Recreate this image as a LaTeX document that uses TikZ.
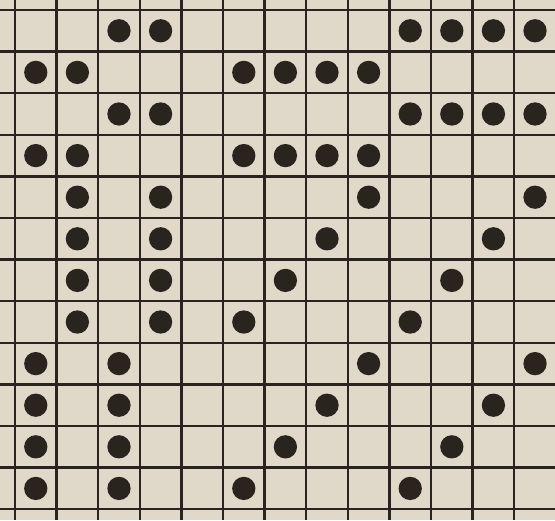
\documentclass[tikz,border=0pt]{standalone}
\usepackage{tikz}
\definecolor{paper}{RGB}{224,217,201}
\definecolor{ink}{RGB}{42,36,31}

\begin{document}
\begin{tikzpicture}[x=1cm,y=-1cm,
    rule/.style={draw=ink,line width=1.7pt},
    spot/.style={fill=ink}]
  \fill[paper] (0,0) rectangle (13.34,12.506);
  \useasboundingbox (0,0) rectangle (13.34,12.506);
  % grid of the paper
  \foreach \i in {0,...,13}
    \draw[rule] (0.36+\i,0) -- (0.36+\i,12.506);
  \foreach \j in {0,...,12}
    \draw[rule] (0,0.24+\j) -- (13.34,0.24+\j);
  % filled cells, row by row
  \foreach \r/\cols in {0/{2,3,9,10,11,12},1/{0,1,5,6,7,8},
      2/{2,3,9,10,11,12},3/{0,1,5,6,7,8},
      4/{1,3,8,12},5/{1,3,7,11},6/{1,3,6,10},7/{1,3,5,9},
      8/{0,2,8,12},9/{0,2,7,11},10/{0,2,6,10},11/{0,2,5,9}}
    \foreach \c in \cols
      \fill[spot] (0.86+\c,0.74+\r) circle (0.28);
\end{tikzpicture}
\end{document}
